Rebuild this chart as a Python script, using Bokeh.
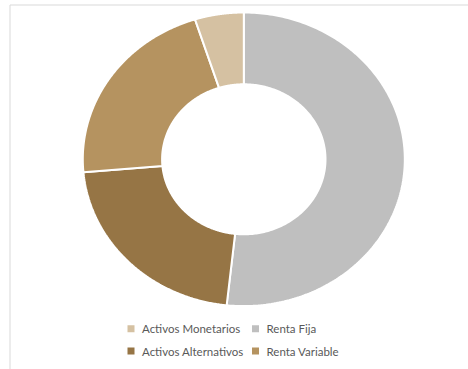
import numpy as np
from bokeh.plotting import figure
from bokeh.models import Range1d, ColumnDataSource
from bokeh.core.properties import value
from bokeh.embed import file_html
from bokeh.resources import INLINE

# ---- data (clockwise from 12 o'clock) ----
slice_labels = ["Renta Fija", "Activos Alternativos", "Renta Variable", "Activos Monetarios"]
slice_values = [51.7, 21.9, 21.5, 4.9]
slice_colors = ["#BFBFBF", "#967545", "#B59360", "#D5C1A2"]

legend_labels = ["Activos Monetarios", "Renta Fija", "Activos Alternativos", "Renta Variable"]

W, H = 468, 369
CX, CY = 243.3, 158.8
RX_OUT, RY_OUT = 161.0, 146.8
RX_IN, RY_IN = 81.7, 75.0

p = figure(width=W, height=H, output_backend="svg", toolbar_location=None,
           x_range=Range1d(0, W), y_range=Range1d(H, 0), min_border=0)
p.axis.visible = False
p.grid.visible = False
p.outline_line_color = None
p.background_fill_color = "white"
p.border_fill_color = "white"

# frame (partially outside the window)
p.line([9.5, 9.5, W + 5], [H + 5, 4.5, 4.5], line_color="#D9D9D9", line_width=1)

vals = np.array(slice_values, dtype=float)
fr = vals / vals.sum()
ends = np.cumsum(fr) * 2 * np.pi
starts = ends - fr * 2 * np.pi

xs, ys = [], []
for a0, a1 in zip(starts, ends):
    t = np.linspace(a0, a1, 200)
    ox = CX + RX_OUT * np.sin(t)
    oy = CY - RY_OUT * np.cos(t)
    ix = CX + RX_IN * np.sin(t[::-1])
    iy = CY - RY_IN * np.cos(t[::-1])
    xs.append(np.concatenate([ox, ix]).tolist())
    ys.append(np.concatenate([oy, iy]).tolist())

src = ColumnDataSource(dict(xs=xs, ys=ys, color=slice_colors, label=slice_labels))
p.patches("xs", "ys", source=src, fill_color="color", line_color="white", line_width=2)

# legend (2 x 2 grid)
color_of = dict(zip(slice_labels, slice_colors))
col_x = [130.5, 255.0]
row_y = [328.3, 350.5]
lx = [col_x[i % 2] for i in range(len(legend_labels))]
ly = [row_y[i // 2] for i in range(len(legend_labels))]
lsrc = ColumnDataSource(dict(x=lx, y=ly, tx=[x + 11 for x in lx], label=legend_labels,
                             color=[color_of[l] for l in legend_labels]))
p.rect("x", "y", width=7, height=7, width_units="screen", height_units="screen",
       source=lsrc, fill_color="color", line_color=None)
p.text("tx", "y", text="label", source=lsrc, text_font=value("Lato"), text_font_size="11.5px",
       text_color="#595959", text_baseline="middle", text_align="left")

open("out.html", "w").write(file_html(p, INLINE))
